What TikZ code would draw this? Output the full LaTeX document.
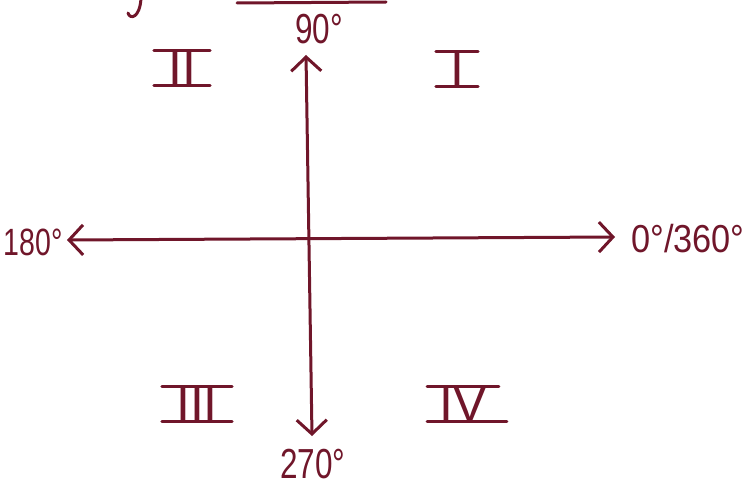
\documentclass[tikz,border=0pt]{standalone}
\usepackage{fontspec}
\setmainfont{Liberation Sans}
\newfontfamily\handnarrow[FakeStretch=0.75]{Liberation Sans}
\newfontfamily\handwide[FakeStretch=0.88]{Liberation Sans}
\usetikzlibrary{arrows.meta}
\definecolor{ink}{RGB}{112,22,42}
\begin{document}
\begin{tikzpicture}[x=1pt,y=-1pt, line cap=round, line join=round,
  axis/.style={draw=ink, line width=3pt, {Straight Barb[length=14pt,width=30pt]}-{Straight Barb[length=14pt,width=30pt]}},
  deg/.style={text=ink, font=\handnarrow\fontsize{42}{44}\selectfont, inner sep=0pt},
  rom/.style={text=ink, font=\fontsize{50}{52}\selectfont, inner sep=0pt},
  bar/.style={draw=ink, line width=3pt}]
\useasboundingbox (0,0) rectangle (749,495);
% cut-off heading strokes at the top edge
\coordinate (ul1) at (237,3);
\coordinate (ul2) at (386,2);
\draw[bar] (ul1) -- (ul2);
\coordinate (hk1) at (141,-2);
\coordinate (hk2) at (128,13);
\draw[bar] (hk1) .. controls (140,18) and (130,20) .. (hk2);
% axes
\coordinate (n) at (306,55);
\coordinate (s) at (312,436);
\coordinate (w) at (67,240);
\coordinate (e) at (615,237);
\draw[axis] (w) -- (e);
\draw[axis] (s) -- (n);
% angle labels
\node[deg] (l90) at (319,29) {90°};
\node[deg, font=\handnarrow\fontsize{38}{40}\selectfont] (l180) at (33,242) {180°};
\node[deg, font=\handwide\fontsize{39}{41}\selectfont] (l0) at (688,239) {0°/360°};
\node[deg] (l270) at (313,464) {270°};
% quadrant numerals
\node[rom] (q1) at (457,69) {I};
\node[rom] (q2) at (182,68) {II};
\node[rom] (q3) at (197,404) {III};
\node[rom] (q4) at (463,404) {IV};
\foreach \q/\a/\b in {q1/14/14, q2/14/14, q3/14/14, q4/12/20}{
  \draw[bar] ([xshift=-\a pt]\q.north west) -- ([xshift=\a pt]\q.north east);
  \draw[bar] ([xshift=-\a pt]\q.south west) -- ([xshift=\b pt]\q.south east);
}
\end{tikzpicture}
\end{document}
